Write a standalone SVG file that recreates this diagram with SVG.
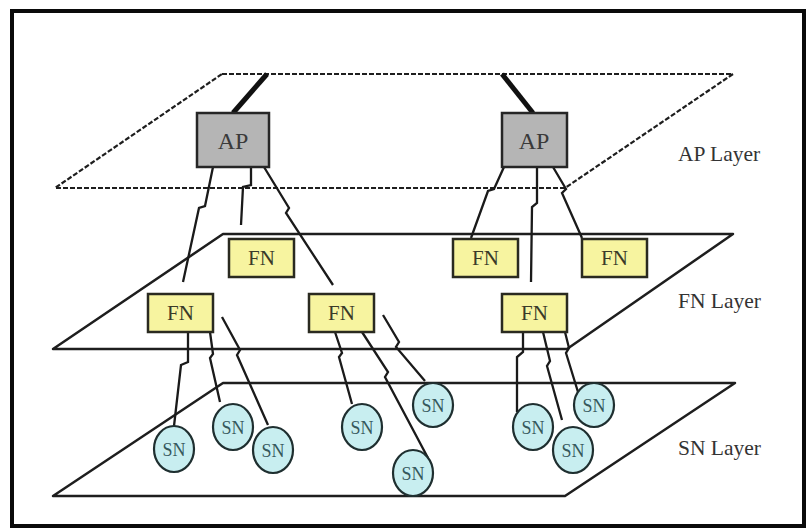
<svg xmlns="http://www.w3.org/2000/svg" width="809" height="529" viewBox="0 0 809 529">
  <style>
    .plane { fill: none; stroke: #1e1e1e; stroke-width: 2.5; stroke-linejoin: round; }
    .dashed { stroke-dasharray: 5 2; stroke-width: 2.2; }
    .conn { fill: none; stroke: #1a1a1a; stroke-width: 2.3; stroke-linejoin: miter; }
    .uplink { fill: none; stroke: #111; stroke-width: 5; }
    .ap rect { fill: #b5b5b5; stroke: #262626; stroke-width: 2.5; }
    .fn rect { fill: #f7f4a0; stroke: #2a2a20; stroke-width: 2.5; }
    .sn ellipse { fill: #c8eef0; stroke: #1f2f30; stroke-width: 2.2; }
    .lbl { font-family: "Liberation Serif", "DejaVu Serif", serif; text-anchor: middle; }
    .ap text { font-size: 24px; fill: #3a3a3a; }
    .fn text { font-size: 21px; fill: #3a3a28; }
    .sn text { font-size: 18px; fill: #36585c; }
    .layer { font-family: "Liberation Serif", "DejaVu Serif", serif; font-size: 21.5px; fill: #333; }
  </style>
  <rect x="0" y="0" width="809" height="529" fill="#ffffff"/>
  <rect x="12" y="11" width="792" height="515" fill="none" stroke="#0a0a0a" stroke-width="4"/>

  <g id="planes">
    <polygon id="ap-plane" class="plane dashed" points="222,74 733,74 565,188 55,188"/>
    <polygon id="fn-plane" class="plane" points="223,234 733,234 567,349 53,349"/>
    <polygon id="sn-plane" class="plane" points="223,383 735,383 565,496 53,496"/>
  </g>

  <g id="layer-labels">
    <text class="layer" x="678" y="161">AP Layer</text>
    <text class="layer" x="678" y="308">FN Layer</text>
    <text class="layer" x="678" y="455">SN Layer</text>
  </g>

  <g id="connectors">
    <line class="uplink" x1="267" y1="74" x2="233" y2="113"/>
    <line class="uplink" x1="502" y1="74" x2="533" y2="113"/>
    <path class="conn" d="M213,167 L205,206 L199,208 L183,282"/>
    <path class="conn" d="M251,167 L251,185 L243,187 L241,225"/>
    <path class="conn" d="M264,167 L289,208 L286,213 L333,285"/>
    <path class="conn" d="M504,167 L494,189 L488,191 L471,238"/>
    <path class="conn" d="M537,167 L537,203 L532,207 L531,282"/>
    <path class="conn" d="M553,167 L566,189 L562,193 L582,238"/>
    <path class="conn" d="M188,332 L188,362 L181,365 L174,426"/>
    <path class="conn" d="M210,332 L213,354 L210,358 L220,402"/>
    <path class="conn" d="M222,317 L240,350 L237,355 L268,425"/>
    <path class="conn" d="M335,332 L342,353 L339,357 L352,404"/>
    <path class="conn" d="M362,332 L388,372 L385,377 L428,458"/>
    <path class="conn" d="M383,315 L399,342 L396,347 L425,381"/>
    <path class="conn" d="M523,332 L523,352 L517,357 L517,412"/>
    <path class="conn" d="M543,332 L550,361 L547,366 L562,420"/>
    <path class="conn" d="M565,332 L569,348 L566,353 L578,392"/>
  </g>

  <g id="ap1" class="ap"><rect x="197" y="113" width="72" height="54"/><text class="lbl" x="233" y="149">AP</text></g>
  <g id="ap2" class="ap"><rect x="502" y="113" width="65" height="54"/><text class="lbl" x="534" y="149">AP</text></g>

  <g id="fn1" class="fn"><rect x="229" y="239" width="65" height="38"/><text class="lbl" x="261.5" y="265">FN</text></g>
  <g id="fn2" class="fn"><rect x="148" y="294" width="65" height="38"/><text class="lbl" x="180.5" y="320">FN</text></g>
  <g id="fn3" class="fn"><rect x="309" y="294" width="65" height="38"/><text class="lbl" x="341.5" y="320">FN</text></g>
  <g id="fn4" class="fn"><rect x="453" y="239" width="65" height="38"/><text class="lbl" x="485.5" y="265">FN</text></g>
  <g id="fn5" class="fn"><rect x="582" y="239" width="65" height="38"/><text class="lbl" x="614.5" y="265">FN</text></g>
  <g id="fn6" class="fn"><rect x="502" y="294" width="65" height="38"/><text class="lbl" x="534.5" y="320">FN</text></g>

  <g id="sn1" class="sn"><ellipse cx="174" cy="449" rx="20" ry="23"/><text class="lbl" x="174" y="455.5">SN</text></g>
  <g id="sn2" class="sn"><ellipse cx="233" cy="427" rx="20" ry="23"/><text class="lbl" x="233" y="433.5">SN</text></g>
  <g id="sn3" class="sn"><ellipse cx="273" cy="450" rx="20" ry="23"/><text class="lbl" x="273" y="456.5">SN</text></g>
  <g id="sn4" class="sn"><ellipse cx="362" cy="427" rx="20" ry="23"/><text class="lbl" x="362" y="433.5">SN</text></g>
  <g id="sn5" class="sn"><ellipse cx="413" cy="473" rx="20" ry="23"/><text class="lbl" x="413" y="479.5">SN</text></g>
  <g id="sn6" class="sn"><ellipse cx="433" cy="405" rx="20" ry="22"/><text class="lbl" x="433" y="411.5">SN</text></g>
  <g id="sn7" class="sn"><ellipse cx="533" cy="427" rx="20" ry="23"/><text class="lbl" x="533" y="433.5">SN</text></g>
  <g id="sn8" class="sn"><ellipse cx="594" cy="405" rx="20" ry="22"/><text class="lbl" x="594" y="411.5">SN</text></g>
  <g id="sn9" class="sn"><ellipse cx="573" cy="450" rx="20" ry="23"/><text class="lbl" x="573" y="456.5">SN</text></g>
</svg>
